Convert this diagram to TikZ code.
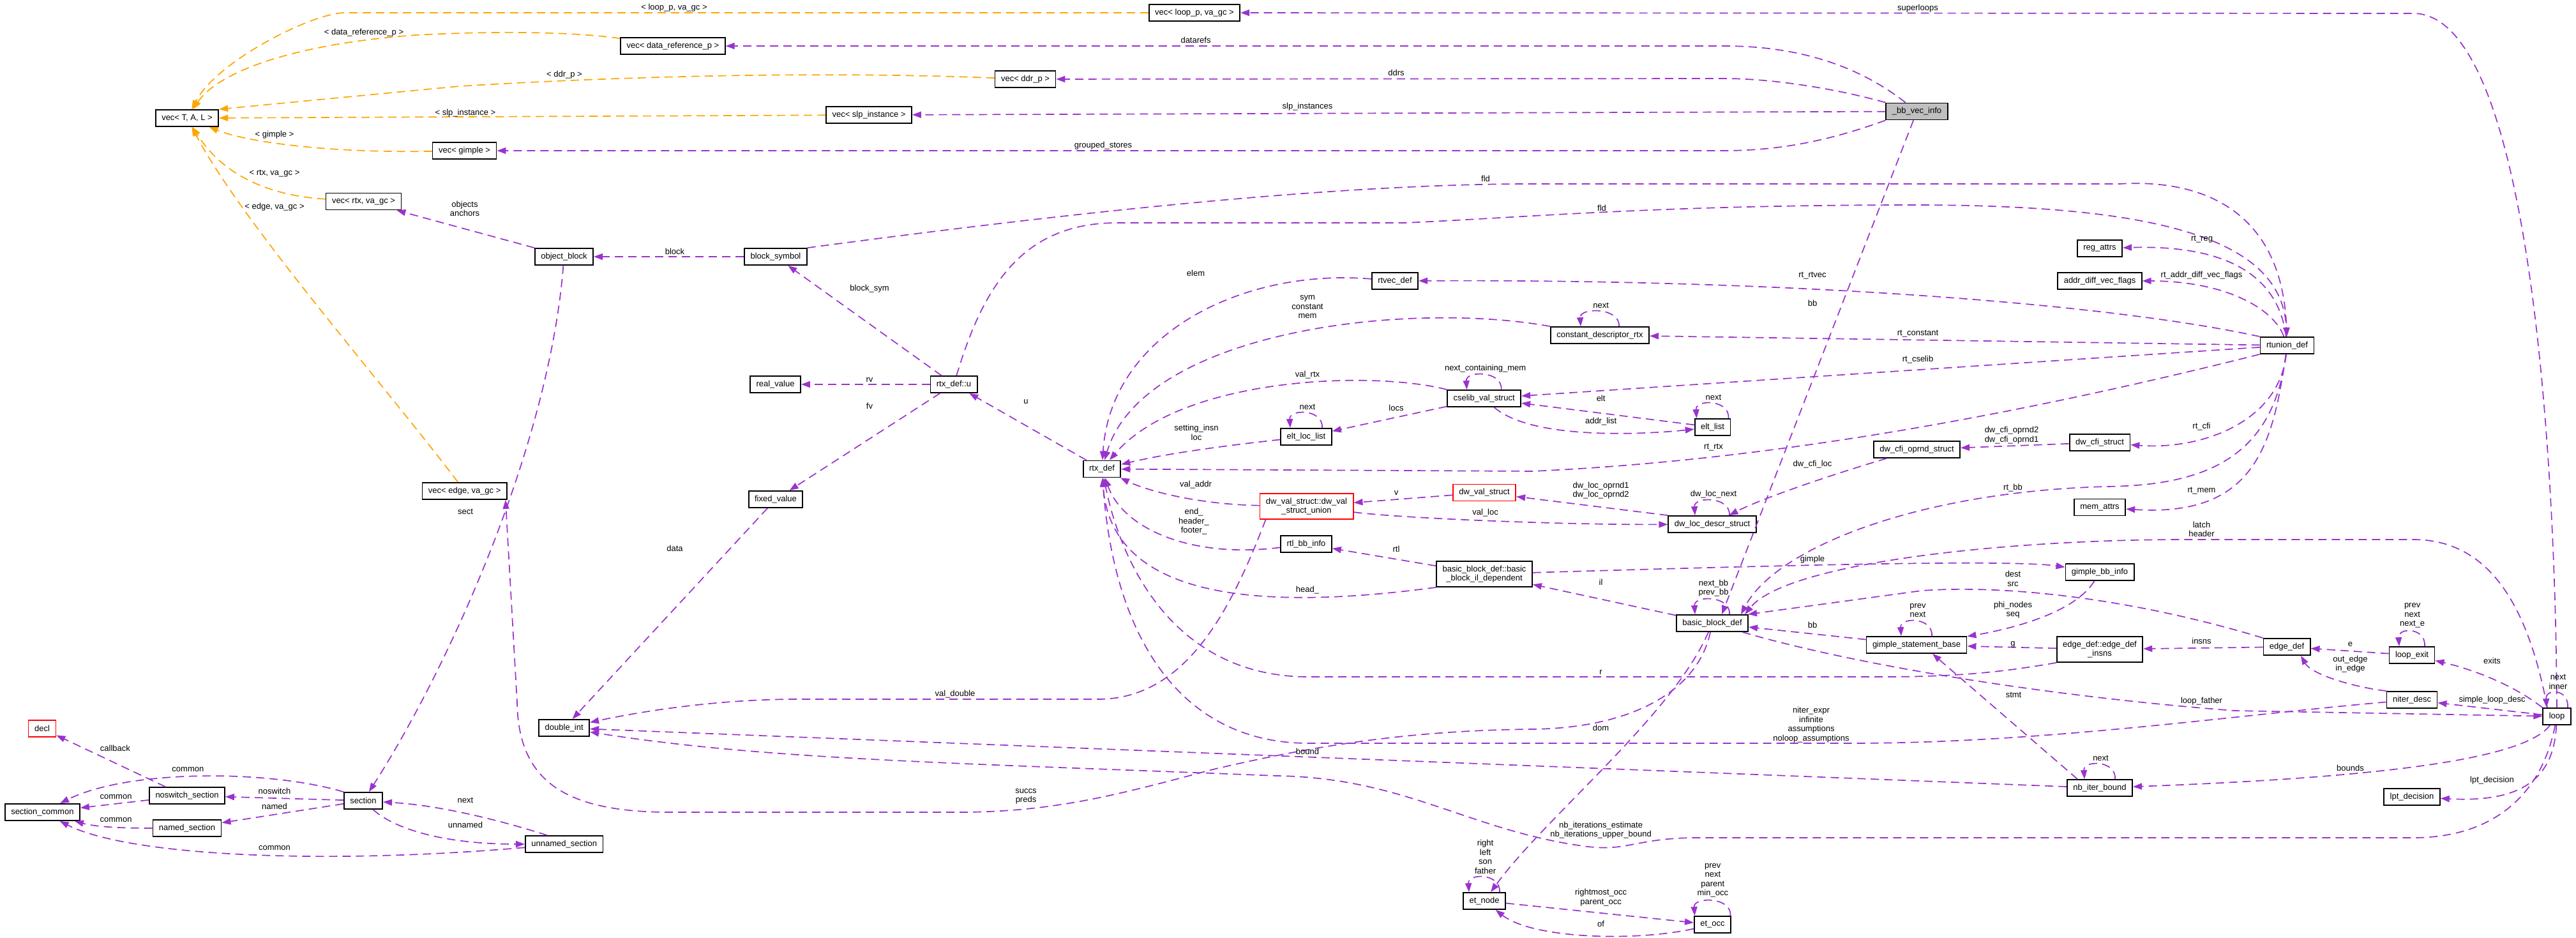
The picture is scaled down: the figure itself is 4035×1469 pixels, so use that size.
\documentclass[tikz,border=0pt]{standalone}
\usepackage{fontspec}
\setmainfont{Liberation Sans}
\usetikzlibrary{arrows.meta}
\definecolor{pur}{HTML}{9A32CD}
\definecolor{org}{HTML}{FFA500}
\definecolor{bbgray}{HTML}{BFBFBF}
\begin{document}
\begin{tikzpicture}[x=1pt,y=-1pt,
  every node/.append style={font=\fontsize{13pt}{14.5pt}\selectfont},
  box/.style={draw=black,line width=1.8pt,fill=white,inner xsep=9.5pt,inner ysep=3pt,minimum height=26pt},
  box2/.style={box,align=center,minimum height=40pt},
  redbox/.style={box,draw=red},
  lab/.style={align=center,inner sep=0pt},
  pe/.style={draw=pur,line width=1.7pt,dash pattern=on 13pt off 8pt,-{Triangle[length=14pt,width=10pt]}},
  oe/.style={pe,draw=org},
  sl/.style={pe}
]
\fill[white] (0,0) rectangle (4035,1469);
\useasboundingbox (0,0) rectangle (4035,1469);

% ---------- nodes ----------
\node[box] (vecTAL) at (293,185) {vec< T, A, L >};
\node[box] (vecdr) at (1054,72) {vec< data\_reference\_p >};
\node[box] (vecloop) at (1871,20) {vec< loop\_p, va\_gc >};
\node[box] (vecddr) at (1606,124) {vec< ddr\_p >};
\node[box] (vecslp) at (1361,180) {vec< slp\_instance >};
\node[box] (vecgimple) at (727.5,236) {vec< gimple >};
\node[box] (vecrtx) at (569.5,315.5) {vec< rtx, va\_gc >};
\node[box] (vecedge) at (727.7,769) {vec< edge, va\_gc >};
\node[box,fill=bbgray] (bbvec) at (3002.5,174.5) {\_bb\_vec\_info};
\node[box] (objblock) at (883.5,402) {object\_block};
\node[box] (blocksym) at (1215,402) {block\_symbol};
\node[box] (realvalue) at (1214.5,602) {real\_value};
\node[box] (rtxu) at (1494,602) {rtx\_def::u};
\node[box] (fixedvalue) at (1215,782) {fixed\_value};
\node[box] (rtxdef) at (1726,734.5) {rtx\_def};
\node[box] (rtvec) at (2185,440) {rtvec\_def};
\node[box] (regattrs) at (3289,389) {reg\_attrs};
\node[box] (addrdiff) at (3289,440) {addr\_diff\_vec\_flags};
\node[box] (rtunion) at (3582.5,541) {rtunion\_def};
\node[box] (constdesc) at (2506,525) {constant\_descriptor\_rtx};
\node[box] (cselib) at (2324.6,624) {cselib\_val\_struct};
\node[box] (eltloc) at (2046,684) {elt\_loc\_list};
\node[box] (eltlist) at (2682.5,669) {elt\_list};
\node[box] (dwcfiop) at (3002.5,704) {dw\_cfi\_oprnd\_struct};
\node[box] (dwcfi) at (3289,693) {dw\_cfi\_struct};
\node[box] (memattrs) at (3289,794.5) {mem\_attrs};
\node[redbox] (dwval) at (2325,771.5) {dw\_val\_struct};
\node[box2,draw=red] (dwunion) at (2046.5,793) {dw\_val\_struct::dw\_val\\\_struct\_union};
\node[box] (dwloc) at (2682,821) {dw\_loc\_descr\_struct};
\node[box] (rtlbb) at (2046,852) {rtl\_bb\_info};
\node[box2] (bbil) at (2325,899) {basic\_block\_def::basic\\\_block\_il\_dependent};
\node[box] (gimplebb) at (3289,896) {gimple\_bb\_info};
\node[box] (bbdef) at (2682,976) {basic\_block\_def};
\node[box] (gsb) at (3002,1010) {gimple\_statement\_base};
\node[box2] (edi) at (3289,1017) {edge\_def::edge\_def\\\_insns};
\node[box] (edgedef) at (3582,1013) {edge\_def};
\node[box] (loopexit) at (3778,1026) {loop\_exit};
\node[box] (niter) at (3778,1096) {niter\_desc};
\node[box] (loop) at (4005,1122) {loop};
\node[box] (nbiter) at (3289,1234) {nb\_iter\_bound};
\node[box] (lpt) at (3778,1248) {lpt\_decision};
\node[box] (doubleint) at (883.7,1140) {double\_int};
\node[redbox] (decl) at (66,1141) {decl};
\node[box] (seccommon) at (66.4,1272) {section\_common};
\node[box] (noswitch) at (293,1246) {noswitch\_section};
\node[box] (named) at (293,1297) {named\_section};
\node[box] (section) at (569,1254) {section};
\node[box] (unnamed) at (883.7,1322) {unnamed\_section};
\node[box] (etnode) at (2325,1411) {et\_node};
\node[box] (etocc) at (2682.5,1448) {et\_occ};

% ---------- orange template edges ----------
\draw[oe] (vecloop) -- (540,20) .. controls (490,20) and (340,95) .. (vecTAL);
\draw[oe] (vecdr) .. controls (900,50) and (780,48) .. (650,55) .. controls (450,70) and (340,115) .. (vecTAL);
\draw[oe] (vecddr) .. controls (1300,112) and (1000,118) .. (720,135) -- (vecTAL.north east);
\draw[oe] (vecslp) -- (vecTAL);
\draw[oe] (vecgimple) .. controls (500,240) and (380,220) .. (vecTAL);
\draw[oe] (vecrtx) .. controls (400,305) and (340,260) .. (vecTAL);
\draw[oe] (vecedge) .. controls (600,600) and (380,350) .. (vecTAL);

% ---------- purple edges ----------
\draw[pe] (loop) .. controls (4003,700) and (3960,21) .. (3780,21) -- (vecloop);
\draw[pe] (bbvec) .. controls (2920,110) and (2830,72) .. (2700,72) -- (vecdr);
\draw[pe] (bbvec.north west) .. controls (2880,140) and (2780,123) .. (2700,123) -- (vecddr);
\draw[pe] (bbvec) -- (vecslp);
\draw[pe] (bbvec.south west) .. controls (2880,215) and (2800,236) .. (2700,236) -- (vecgimple);
\draw[pe] (blocksym) -- (objblock);
\draw[pe] (objblock.north west) -- ([xshift=-8pt]vecrtx.south east);
\draw[pe] (rtxu) -- (blocksym);
\draw[pe] (blocksym.north east) .. controls (1700,330) and (2100,288) .. (2400,288) -- (3320,288) .. controls (3450,280) and (3575,330) .. (rtunion);
\draw[pe] (rtxu) .. controls (1540,450) and (1600,349) .. (1750,349) -- (2200,349) .. controls (2400,340) and (2600,321) .. (3000,321) .. controls (3400,321) and (3575,380) .. (rtunion);
\draw[pe] (rtunion) .. controls (3570,440) and (3500,383) .. (regattrs);
\draw[pe] (rtunion) .. controls (3560,480) and (3480,440) .. (addrdiff);
\draw[pe] (rtunion.north west) .. controls (3300,475) and (2800,437) .. (rtvec);
\draw[pe] (rtvec) .. controls (1950,420) and (1740,520) .. (rtxdef);
\draw[pe] (rtunion) -- (constdesc);
\draw[pe] (constdesc.north west) .. controls (2200,470) and (1790,520) .. (rtxdef);
\draw[pe] (rtunion) -- (cselib);
\draw[pe] (cselib.north west) .. controls (2150,580) and (1850,590) .. (rtxdef);
\draw[pe] (cselib) -- (eltloc);
\draw[pe] (eltloc) .. controls (1900,700) and (1820,712) .. (rtxdef);
\draw[pe] (eltlist) -- (cselib);
\draw[pe] (cselib) .. controls (2400,690) and (2580,680) .. (eltlist);
\draw[pe] (rtunion.south west) .. controls (3200,640) and (2800,720) .. (2400,738) -- (rtxdef);
\draw[pe] (dwcfi) -- (dwcfiop);
\draw[pe] (rtunion) .. controls (3570,660) and (3450,705) .. (dwcfi);
\draw[pe] (dwcfiop) .. controls (2880,740) and (2760,780) .. (dwloc);
\draw[pe] (dwloc.north west) -- (dwval);
\draw[pe] (dwval) -- (dwunion);
\draw[pe] (dwunion) .. controls (2200,812) and (2450,822) .. (dwloc);
\draw[pe] (dwunion) .. controls (1880,790) and (1800,770) .. (rtxdef);
\draw[pe] ([xshift=10pt]dwunion.south west) .. controls (1930,950) and (1860,1095) .. (1720,1095) -- (1250,1095) .. controls (1120,1095) and (1000,1115) .. (doubleint);
\draw[pe] (rtxu) -- (fixedvalue);
\draw[pe] (rtxu) -- (realvalue);
\draw[pe] (rtxdef) -- (rtxu);
\draw[pe] (fixedvalue) -- (doubleint);
\draw[pe] (rtlbb) .. controls (1870,875) and (1760,830) .. (rtxdef);
\draw[pe] (bbil) -- (rtlbb);
\draw[pe] (bbil.south west) .. controls (1950,960) and (1740,930) .. (rtxdef);
\draw[pe] (bbdef) -- (bbil);
\draw[pe] (bbil) .. controls (2800,885) and (3150,876) .. (gimplebb);
\draw[pe] (bbvec) -- ([xshift=15pt]bbdef.north);
\draw[pe] (rtunion) .. controls (3560,720) and (3450,760) .. (3300,762) .. controls (3000,770) and (2780,860) .. ([xshift=-12pt]bbdef.north east);
\draw[pe] (rtunion) .. controls (3560,700) and (3530,810) .. (memattrs);
\draw[pe] ([xshift=-15pt]loop.north) .. controls (3960,950) and (3900,845) .. (3780,845) -- (3420,845) .. controls (3150,845) and (2800,880) .. ([xshift=-6pt]bbdef.north east);
\draw[pe] (gsb) -- (bbdef);
\draw[pe] (edgedef.north west) .. controls (3350,940) and (3150,915) .. (3010,925) -- ([xshift=-1pt]bbdef.north east);
\draw[pe] (gimplebb) .. controls (3250,960) and (3150,985) .. (gsb);
\draw[pe] (edi) -- (gsb);
\draw[pe] (edgedef) -- (edi);
\draw[pe] ([xshift=-35pt]nbiter.north) -- ([xshift=25pt]gsb.south);
\draw[pe] (edi.south west) .. controls (3150,1050) and (3080,1060) .. (2950,1060) -- (2050,1060) .. controls (1850,1060) and (1760,900) .. (rtxdef);
\draw[pe] (loopexit) -- (edgedef);
\draw[pe] (niter.north west) .. controls (3680,1075) and (3620,1055) .. ([xshift=22pt]edgedef.south);
\draw[pe] (loop.north west) .. controls (3940,1075) and (3880,1050) .. (loopexit);
\draw[pe] (loop) -- (niter);
\draw[pe] (bbdef) .. controls (2900,1040) and (3200,1090) .. (3500,1113) -- (loop);
\draw[pe] (niter) .. controls (3500,1120) and (3200,1164) .. (2900,1164) -- (2050,1164) .. controls (1850,1164) and (1745,1000) .. (rtxdef);
\draw[pe] (nbiter) -- (doubleint);
\draw[pe] (loop) .. controls (3980,1250) and (3900,1312) .. (3780,1312) -- (2660,1312) .. controls (2560,1312) and (2550,1335) .. (2480,1325) .. controls (2300,1300) and (2200,1218) .. (2000,1215) .. controls (1500,1195) and (1200,1190) .. (doubleint);
\draw[pe] (loop) .. controls (3960,1180) and (3800,1215) .. (nbiter);
\draw[pe] (loop) .. controls (4000,1220) and (3950,1257) .. (lpt);
\draw[pe] (bbdef) .. controls (2620,1120) and (2420,1280) .. (etnode);
\draw[pe] (bbdef) .. controls (2660,1080) and (2560,1140) .. (2400,1142) .. controls (2200,1144) and (2050,1170) .. (1900,1205) .. controls (1750,1245) and (1650,1272) .. (1500,1272) -- (1050,1272) .. controls (880,1272) and (812,1220) .. (810,1100) -- ([xshift=-3pt]vecedge.south east);
\draw[pe] (objblock) .. controls (860,700) and (700,1050) .. (section);
\draw[pe] (section.north west) .. controls (420,1205) and (200,1205) .. (seccommon);
\draw[pe] (noswitch) -- (seccommon);
\draw[pe] (named) .. controls (190,1297) and (150,1295) .. (seccommon);
\draw[pe] (unnamed) .. controls (500,1355) and (200,1340) .. (seccommon);
\draw[pe] ([xshift=26pt]noswitch.north west) -- (decl);
\draw[pe] (section) -- (noswitch);
\draw[pe] (section) -- (named);
\draw[pe] ([xshift=35pt]unnamed.north west) .. controls (800,1290) and (700,1262) .. (section);
\draw[pe] (section) .. controls (620,1300) and (700,1322) .. (unnamed);
\draw[pe] (etnode) -- (etocc);
\draw[pe] (etocc) .. controls (2560,1475) and (2400,1470) .. (etnode);

% ---------- self loops ----------
\draw[sl] ([xshift=30pt]constdesc.north) .. controls +(2,-30) and +(-2,-30) .. ([xshift=-30pt]constdesc.north);
\draw[sl] ([xshift=27pt]cselib.north) .. controls +(2,-30) and +(-2,-30) .. ([xshift=-27pt]cselib.north);
\draw[sl] ([xshift=25pt]eltloc.north) .. controls +(2,-30) and +(-2,-30) .. ([xshift=-25pt]eltloc.north);
\draw[sl] ([xshift=25pt]eltlist.north) .. controls +(2,-30) and +(-2,-30) .. ([xshift=-25pt]eltlist.north);
\draw[sl] ([xshift=27pt]dwloc.north) .. controls +(2,-30) and +(-2,-30) .. ([xshift=-27pt]dwloc.north);
\draw[sl] ([xshift=27pt]bbdef.north) .. controls +(2,-30) and +(-2,-30) .. ([xshift=-27pt]bbdef.north);
\draw[sl] ([xshift=24pt]gsb.north) .. controls +(2,-30) and +(-2,-30) .. ([xshift=-24pt]gsb.north);
\draw[sl] ([xshift=20pt]loopexit.north) .. controls +(2,-30) and +(-2,-30) .. ([xshift=-20pt]loopexit.north);
\draw[sl] ([xshift=17pt]loop.north) .. controls +(2,-30) and +(-2,-30) .. ([xshift=-16pt]loop.north);
\draw[sl] ([xshift=24pt]nbiter.north) .. controls +(2,-30) and +(-2,-30) .. ([xshift=-24pt]nbiter.north);
\draw[sl] ([xshift=24pt]etnode.north) .. controls +(2,-30) and +(-2,-30) .. ([xshift=-24pt]etnode.north);
\draw[sl] ([xshift=28pt]etocc.north) .. controls +(2,-30) and +(-2,-30) .. ([xshift=-28pt]etocc.north);

% ---------- labels ----------
\node[lab] (la1) at (1056,12) {< loop\_p, va\_gc >};
\node[lab] (la2) at (570,51) {< data\_reference\_p >};
\node[lab] (la3) at (884,117) {< ddr\_p >};
\node[lab] (la4) at (729,177) {< slp\_instance >};
\node[lab] (la5) at (430,211) {< gimple >};
\node[lab] (la6) at (430,272) {< rtx, va\_gc >};
\node[lab] (la7) at (430,324) {< edge, va\_gc >};
\node[lab] (lb1) at (3004,13) {superloops};
\node[lab] (lb2) at (1873,63) {datarefs};
\node[lab] (lb3) at (2187,114) {ddrs};
\node[lab] (lb4) at (2048,167) {slp\_instances};
\node[lab] (lb5) at (1728,228) {grouped\_stores};
\node[lab] (lb6) at (1057,394) {block};
\node[lab] (lb7) at (728,327) {objects\\anchors};
\node[lab] (lb8) at (1362,452) {block\_sym};
\node[lab] (lb9) at (2327,280) {fld};
\node[lab] (lb10) at (2509,326) {fld};
\node[lab] (lb11) at (3449,375) {rt\_reg};
\node[lab] (lb12) at (3448.5,431) {rt\_addr\_diff\_vec\_flags};
\node[lab] (lb13) at (2839,432) {rt\_rtvec};
\node[lab] (lb14) at (1873,428) {elem};
\node[lab] (lb15) at (3004,523) {rt\_constant};
\node[lab] (lb16) at (2507.6,478) {next};
\node[lab] (lb17) at (2048,481) {sym\\constant\\mem};
\node[lab] (lb18) at (3004,563) {rt\_cselib};
\node[lab] (lb19) at (2326.6,577) {next\_containing\_mem};
\node[lab] (lb20) at (2048,587) {val\_rtx};
\node[lab] (lb21) at (2187,639) {locs};
\node[lab] (lb22) at (2048,637) {next};
\node[lab] (lb23) at (1874,677.5) {setting\_insn\\loc};
\node[lab] (lb24) at (2507.6,624) {elt};
\node[lab] (lb25) at (2507.6,660) {addr\_list};
\node[lab] (lb26) at (2684,622) {next};
\node[lab] (lb27) at (2684,701) {rt\_rtx};
\node[lab] (lb28) at (3151,681.5) {dw\_cfi\_oprnd2\\dw\_cfi\_oprnd1};
\node[lab] (lb29) at (3448.5,668) {rt\_cfi};
\node[lab] (lb30) at (2839,727) {dw\_cfi\_loc};
\node[lab] (lb31) at (2684,774) {dw\_loc\_next};
\node[lab] (lb32) at (2507.6,768) {dw\_loc\_oprnd1\\dw\_loc\_oprnd2};
\node[lab] (lb33) at (2187,772) {v};
\node[lab] (lb34) at (2326.6,803) {val\_loc};
\node[lab] (lb35) at (1873,759) {val\_addr};
\node[lab] (lb36) at (1496,1087) {val\_double};
\node[lab] (lb37) at (1362,636) {fv};
\node[lab] (lb38) at (1362,595) {rv};
\node[lab] (lb39) at (1607,629) {u};
\node[lab] (lb40) at (1057,859) {data};
\node[lab] (lb41) at (1870,817) {end\_\\header\_\\footer\_};
\node[lab] (lb42) at (2187,860) {rtl};
\node[lab] (lb43) at (2048,924) {head\_};
\node[lab] (lb44) at (2507.6,912) {il};
\node[lab] (lb45) at (2839,876) {gimple};
\node[lab] (lb46) at (2839,475) {bb};
\node[lab] (lb47) at (3153,764) {rt\_bb};
\node[lab] (lb48) at (3448.5,769) {rt\_mem};
\node[lab] (lb49) at (3448.5,829) {latch\\header};
\node[lab] (lb50) at (2839,979) {bb};
\node[lab] (lb51) at (3153,906.5) {dest\\src};
\node[lab] (lb52) at (3153,955) {phi\_nodes\\seq};
\node[lab] (lb53) at (3004,956) {prev\\next};
\node[lab] (lb54) at (3153,1009) {g};
\node[lab] (lb55) at (3448.5,1004) {insns};
\node[lab] (lb56) at (3154,1088) {stmt};
\node[lab] (lb57) at (2507.6,1053) {r};
\node[lab] (lb58) at (3681.5,1009) {e};
\node[lab] (lb59) at (3681.5,1040) {out\_edge\\in\_edge};
\node[lab] (lb60) at (3778.6,964) {prev\\next\\next\_e};
\node[lab] (lb61) at (3903.5,1035) {exits};
\node[lab] (lb62) at (3903.5,1096) {simple\_loop\_desc};
\node[lab] (lb63) at (4007,1068) {next\\inner};
\node[lab] (lb64) at (3448.5,1098) {loop\_father};
\node[lab] (lb65) at (2837,1135) {niter\_expr\\infinite\\assumptions\\noloop\_assumptions};
\node[lab] (lb66) at (2048,1177) {bound};
\node[lab] (lb67) at (2507.6,1300) {nb\_iterations\_estimate\\nb\_iterations\_upper\_bound};
\node[lab] (lb68) at (3681.5,1203) {bounds};
\node[lab] (lb69) at (3903.5,1222) {lpt\_decision};
\node[lab] (lb70) at (3290.5,1187) {next};
\node[lab] (lb71) at (2507.6,1140) {dom};
\node[lab] (lb72) at (1607,1247.5) {succs\\preds};
\node[lab] (lb73) at (729,801) {sect};
\node[lab] (lb74) at (294.4,1205) {common};
\node[lab] (lb75) at (181.6,1248) {common};
\node[lab] (lb76) at (181.6,1284) {common};
\node[lab] (lb77) at (430,1328) {common};
\node[lab] (lb78) at (180.4,1172) {callback};
\node[lab] (lb79) at (430,1239) {noswitch};
\node[lab] (lb80) at (430,1263) {named};
\node[lab] (lb81) at (729,1253) {next};
\node[lab] (lb82) at (729,1292) {unnamed};
\node[lab] (lb83) at (2326.6,1342) {right\\left\\son\\father};
\node[lab] (lb84) at (2507.6,1405.7) {rightmost\_occ\\parent\_occ};
\node[lab] (lb85) at (2507.6,1447) {of};
\node[lab] (lb86) at (2682.8,1379) {prev\\next\\parent\\min\_occ};
\node[lab] (lb87) at (2684,921) {next\_bb\\prev\_bb};
\end{tikzpicture}
\end{document}
